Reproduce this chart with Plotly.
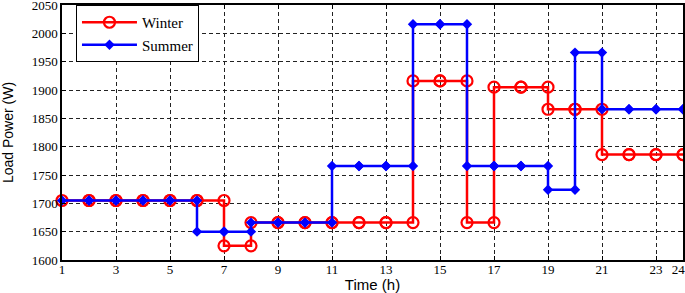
import plotly.graph_objects as go

hours = list(range(1, 25))
winter = [1705, 1705, 1705, 1705, 1705, 1705, 1625,
          1666, 1666, 1666, 1666, 1666, 1666,
          1916, 1916, 1666, 1905, 1905, 1866, 1866,
          1786, 1786, 1786, 1786]
summer = [1705, 1705, 1705, 1705, 1705, 1650, 1650,
          1666, 1666, 1666, 1766, 1766, 1766,
          2016, 2016, 1766, 1766, 1766, 1724, 1966,
          1866, 1866, 1866, 1866]
x_ticks = [1, 3, 5, 7, 9, 11, 13, 15, 17, 19, 21, 23, 24]
y_ticks = list(range(1600, 2051, 50))

SERIF = "Liberation Serif, DejaVu Serif, Times New Roman, serif"
SANS = "Liberation Sans, Arial, sans-serif"


def stairs(x, y):
    xs, ys = [], []
    for i in range(len(x) - 1):
        xs += [x[i], x[i + 1]]
        ys += [y[i], y[i]]
    xs.append(x[-1])
    ys.append(y[-1])
    return xs, ys


wx, wy = stairs(hours, winter)
sx, sy = stairs(hours, summer)

# last label nudged left (as in the reference) so it stays inside the page
x_ticktext = [str(v) for v in x_ticks]
x_ticktext[-1] = "\u00a0" + x_ticktext[-1] + "\u00a0\u00a0\u00a0\u00a0"

fig = go.Figure()
fig.add_trace(go.Scatter(
    x=wx, y=wy, name="Winter", mode="lines+markers",
    line=dict(color="#ff0000", width=2.5),
    marker=dict(symbol="circle-open", size=11, color="#ff0000",
                line=dict(width=2.2, color="#ff0000")),
    cliponaxis=False,
))
fig.add_trace(go.Scatter(
    x=sx, y=sy, name="Summer", mode="lines+markers",
    line=dict(color="#0000ff", width=2.5),
    marker=dict(symbol="diamond", size=8, color="#0000ff"),
    cliponaxis=False,
))

axis_common = dict(
    showline=True, linecolor="black", linewidth=1.5, mirror="ticks",
    ticks="inside", ticklen=4, tickcolor="black",
    showgrid=True, gridcolor="#222222", gridwidth=1, griddash="4px,3px",
    zeroline=False, ticklabeloverflow="allow",
    tickfont=dict(family=SERIF, size=13, color="black"),
)

fig.update_xaxes(
    range=[1, 24], tickvals=x_ticks, ticktext=x_ticktext,
    ticklabelstandoff=-3,
    title=dict(text="Time (h)", font=dict(family=SANS, size=15, color="black"),
               standoff=3),
    **axis_common,
)
fig.update_yaxes(
    range=[1600, 2050], tickvals=y_ticks, ticktext=[str(v) for v in y_ticks],
    title=dict(text="Load Power (W)", font=dict(family=SANS, size=14, color="black"),
               standoff=16),
    **axis_common,
)

fig.update_layout(
    width=685, height=293,
    margin=dict(l=62, r=2, t=5, b=33, autoexpand=False),
    plot_bgcolor="white", paper_bgcolor="white",
    showlegend=True,
    legend=dict(
        x=0.0225, y=1, xanchor="left", yanchor="top",
        bgcolor="white", bordercolor="black", borderwidth=1,
        font=dict(family=SERIF, size=15, color="black"),
        tracegroupgap=0, itemwidth=55,
    ),
)

fig.write_html(
    "out.html",
    config={"displayModeBar": False},
    post_script="document.body.style.margin='0';document.body.style.padding='0';",
)
